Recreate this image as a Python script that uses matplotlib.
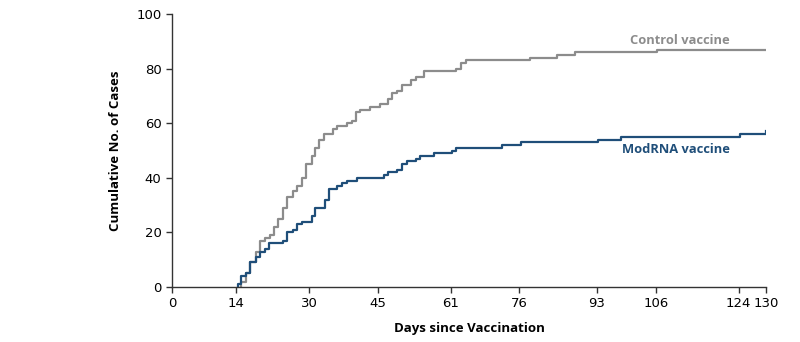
import matplotlib
matplotlib.use("Agg")
import matplotlib.pyplot as plt

# step data (day, cumulative cases)
control_days = [15.0, 15.2, 16.2, 17.1, 18.4, 19.3, 20.4, 21.4, 22.3, 23.3, 24.2, 25.2, 26.4,
                27.4, 28.4, 29.3, 30.6, 31.3, 32.2, 33.3, 35.3, 36.1, 38.2, 39.3, 40.3,
                41.1, 43.3, 45.5, 47.3, 48.1, 49.3, 50.4, 52.3, 53.4, 55.2, 62.2, 63.3,
                64.3, 78.4, 84.2, 88.2, 106.2, 130]
control_cases = [0, 2, 5, 9, 13, 17, 18, 19, 22, 25, 29, 33, 35, 37, 40, 45, 48, 51, 54, 56,
                 58, 59, 60, 61, 64, 65, 66, 67, 69, 71, 72, 74, 76, 77, 79, 80, 82, 83, 84,
                 85, 86, 87, 87]

modrna_days = [14.5, 15.2, 16.2, 17.1, 18.4, 19.3, 20.4, 21.3, 24.4, 25.2, 26.4, 27.4,
               28.4, 30.6, 31.3, 33.5, 34.4, 36.1, 37.1, 38.4, 40.4, 46.3, 47.3, 49.3, 50.4,
               51.4, 53.4, 54.3, 57.3, 61.2, 62.2, 72.3, 76.3, 93.3, 98.2, 124.3, 130]
modrna_cases = [1, 4, 5, 9, 11, 13, 14, 16, 17, 20, 21, 23, 24, 26, 29, 32, 36, 37, 38, 39,
                40, 41, 42, 43, 45, 46, 47, 48, 49, 50, 51, 52, 53, 54, 55, 56, 57]

x_ticks = [0, 14, 30, 45, 61, 76, 93, 106, 124, 130]
y_ticks = [0, 20, 40, 60, 80, 100]

gray = "#8c8c8c"
blue = "#1f4e79"
dark = "#333333"

fig = plt.figure(figsize=(8, 3.42), dpi=100)
ax = fig.add_axes([0.215, 0.1608, 0.7425, 0.798])

ax.step(control_days, control_cases, where="post", color=gray, lw=1.6)
# first point sits on the axis, start the line from zero there
ax.step([modrna_days[0]] + modrna_days, [0] + modrna_cases, where="post", color=blue, lw=1.6)

ax.set_xlim(0, 130)
ax.set_ylim(0, 100)
ax.set_xticks(x_ticks)
ax.set_yticks(y_ticks)
ax.spines["top"].set_visible(False)
ax.spines["right"].set_visible(False)
for s in ["left", "bottom"]:
    ax.spines[s].set_color(dark)
    ax.spines[s].set_linewidth(1.0)
ax.tick_params(direction="out", length=4, width=1.0, color=dark, labelcolor="black",
               labelsize=9.5)
for lab in ax.get_xticklabels() + ax.get_yticklabels():
    lab.set_family(["Liberation Sans Narrow", "DejaVu Sans"])

ax.set_xlabel("Days since Vaccination", fontsize=9.5, fontweight="bold",
              family=["Open Sans", "DejaVu Sans"], labelpad=8)
ax.set_ylabel("Cumulative No. of Cases", fontsize=9.5, fontweight="bold",
              family=["Open Sans", "DejaVu Sans"], labelpad=10)

ax.text(122, 90.5, "Control vaccine", color=gray, fontsize=9.3, fontweight="bold",
        family=["Open Sans", "DejaVu Sans"], ha="right", va="center")
ax.text(122, 50.5, "ModRNA vaccine", color=blue, fontsize=9.3, fontweight="bold",
        family=["Open Sans", "DejaVu Sans"], ha="right", va="center")

fig.savefig("out.png", dpi=100)
